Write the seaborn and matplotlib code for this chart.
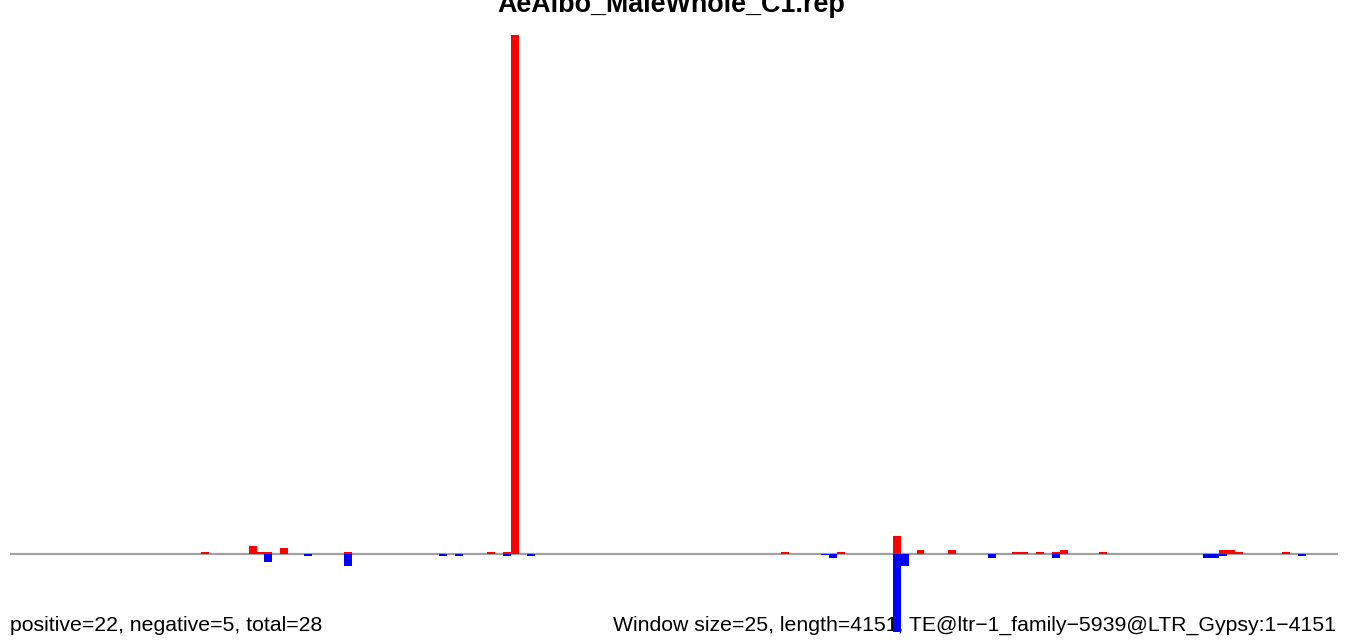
import matplotlib
matplotlib.use('Agg')
import matplotlib.pyplot as plt
import numpy as np
import pandas as pd
import seaborn as sns

# window index (25 bp windows) and read counts per strand
n_windows = 167
win_pos = [24, 30, 31, 32, 34, 42, 60, 62, 63, 97, 104, 111, 114, 118,
           126, 127, 129, 131, 132, 137, 152, 153, 154, 160]
val_pos = [1, 4, 1, 1, 3, 1, 1, 1, 260, 1, 1, 9, 2, 2,
           1, 1, 1, 1, 2, 1, 2, 2, 1, 1]
win_neg = [32, 37, 42, 54, 56, 62, 65, 102, 103, 111, 112, 123, 131,
           150, 151, 152, 162]
val_neg = [4, 1, 6, 1, 1, 1, 1, 0.5, 2, 39, 6, 2, 2,
           2, 2, 1, 1]

title = 'AeAlbo_MaleWhole_C1.rep'
left_note = 'positive=22, negative=5, total=28'
right_note = 'Window size=25, length=4151, TE@ltr\u22121_family\u22125939@LTR_Gypsy:1\u22124151'

df_pos = pd.DataFrame({'window': win_pos, 'count': val_pos})
df_neg = pd.DataFrame({'window': win_neg, 'count': [-v for v in val_neg]})

sns.set_style('white')
plt.rcParams['font.family'] = ['Liberation Sans', 'DejaVu Sans']
plt.rcParams['text.color'] = 'black'

fig = plt.figure(figsize=(13.5, 6.44), dpi=100)
ax = fig.add_axes([10/1350, 1 - 632/644, 1328/1350, (632 - 35)/644])

# baseline at zero, bars drawn on top of it
ax.axhline(0, color='#a0a0a0', lw=1.6, zorder=1)
sns.barplot(data=df_pos, x='window', y='count', native_scale=True, width=1,
            color='#ff0000', saturation=1, linewidth=0, errorbar=None, ax=ax, zorder=3)
sns.barplot(data=df_neg, x='window', y='count', native_scale=True, width=1,
            color='#0000ff', saturation=1, linewidth=0, errorbar=None, ax=ax, zorder=3)

ax.set_xlim(-0.5, n_windows - 0.5)
ax.set_ylim(-39, 260)
ax.axis('off')

fig.text(671/1350, 1 - 12/644, title, ha='center', va='baseline',
         fontsize=19.4, fontweight='bold', color='black')
ax.text(10/1350, 13/644, left_note, transform=fig.transFigure, ha='left',
        va='baseline', fontsize=15.3, color='black', zorder=2, clip_on=False)
ax.text(1336/1350, 13/644, right_note, transform=fig.transFigure, ha='right',
        va='baseline', fontsize=15.3, color='black', zorder=2, clip_on=False)

fig.savefig('out.png', dpi=100)
